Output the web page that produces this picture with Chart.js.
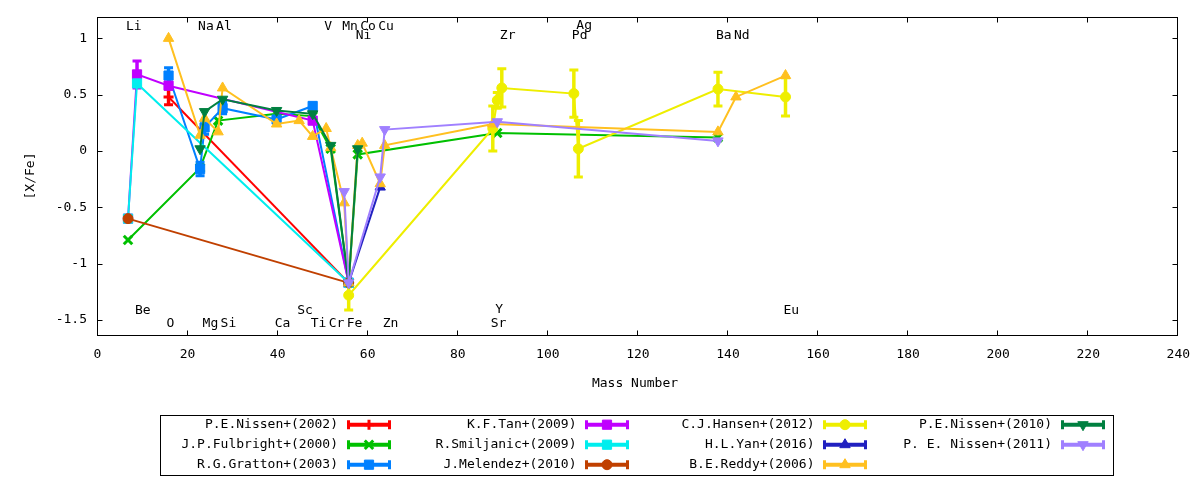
<!DOCTYPE html>
<html><head><meta charset="utf-8">
<script src="https://cdn.jsdelivr.net/npm/chart.js@4.4.1/dist/chart.umd.min.js"></script>
<style>html,body{margin:0;padding:0;background:#fff;}#wrap{width:1200px;height:480px;}</style>
</head><body><div id="wrap"><canvas id="c" width="1200" height="480"></canvas></div>
<script>
// ---- element labels ----
const elementNames  = ['Li','Be','O','Na','Mg','Al','Si','Ca','Sc','Ti','V','Cr','Mn','Fe','Co','Ni','Cu','Zn','Sr','Y','Zr','Pd','Ag','Ba','Nd','Eu'];
const elementMass   = [7,9,16,23,24,27,28,40,45,48,51,52,55,56,59,58,63,64,88,89,90,106,107,138,142,153];
const elementLabelY = [1.10,-1.42,-1.535,1.10,-1.535,1.10,-1.535,-1.535,-1.42,-1.535,1.10,-1.535,1.10,-1.535,1.10,1.02,1.10,-1.535,-1.53,-1.41,1.02,1.02,1.11,1.02,1.02,-1.42];

// ---- axes ticks ----
const xTickValues = [0,20,40,60,80,100,120,140,160,180,200,220,240];
const yTickValues = [-1.5,-1,-0.5,0,0.5,1];
const yTickLabels = ['-1.5','-1','-0.5','0','0.5','1'];

// ---- series (mass number, [X/Fe], error) ----
const nissen2002Mass = [16, 56];
const nissen2002Val  = [0.48, -1.17];
const nissen2002Err  = [0.07, 0];

const fulbright2000Mass = [7, 23, 27, 40, 48, 52, 56, 58, 89, 138];
const fulbright2000Val  = [-0.79, -0.15, 0.27, 0.33, 0.31, 0.02, -1.17, -0.03, 0.16, 0.12];
const fulbright2000Err  = [0, 0, 0, 0, 0, 0, 0, 0, 0, 0];

const gratton2003Mass = [16, 23, 24, 28, 40, 48, 56];
const gratton2003Val  = [0.67, -0.16, 0.21, 0.38, 0.28, 0.40, -1.17];
const gratton2003Err  = [0.07, 0.06, 0.06, 0.05, 0, 0, 0];

const tan2009Mass = [7, 9, 16, 48, 56];
const tan2009Val  = [-0.60, 0.68, 0.58, 0.27, -1.17];
const tan2009Err  = [0, 0.12, 0, 0, 0];

const smiljanic2009Mass = [7, 9, 56];
const smiljanic2009Val  = [-0.60, 0.60, -1.17];
const smiljanic2009Err  = [0, 0, 0];

const melendez2010Mass = [7, 56];
const melendez2010Val  = [-0.60, -1.17];
const melendez2010Err  = [0, 0];

const hansen2012Mass = [56, 88, 89, 90, 106, 107, 138, 153];
const hansen2012Val  = [-1.28, 0.20, 0.45, 0.56, 0.51, 0.02, 0.55, 0.48];
const hansen2012Err  = [0.13, 0.20, 0.07, 0.17, 0.21, 0.25, 0.15, 0.17];

const yan2016Mass = [56, 63];
const yan2016Val  = [-1.17, -0.32];
const yan2016Err  = [0, 0];

const reddy2006Mass = [16, 23, 24, 27, 28, 40, 45, 48, 51, 52, 55, 56, 58, 59, 63, 64, 88, 138, 142, 153];
const reddy2006Val  = [1.00, 0.14, 0.29, 0.17, 0.56, 0.24, 0.27, 0.13, 0.20, 0.03, -0.46, -1.17, 0.05, 0.07, -0.29, 0.05, 0.24, 0.17, 0.48, 0.67];
const reddy2006Err  = [0,0,0,0,0,0,0,0,0,0,0,0,0,0,0,0,0,0,0,0];

const nissen2010Mass = [23, 24, 28, 40, 48, 52, 56, 58];
const nissen2010Val  = [0.02, 0.35, 0.46, 0.36, 0.33, 0.05, -1.17, 0.02];
const nissen2010Err  = [0, 0, 0, 0, 0, 0, 0, 0];

const nissen2011Mass = [55, 56, 63, 64, 89, 138];
const nissen2011Val  = [-0.36, -1.17, -0.23, 0.19, 0.26, 0.09];
const nissen2011Err  = [0, 0, 0, 0, 0, 0];

const FONT = '13px "DejaVu Sans Mono", monospace';

const series = [
  {label:'P.E.Nissen+(2002)',   mass:nissen2002Mass,   val:nissen2002Val,   err:nissen2002Err,   color:'#ff0000', style:'cross',    r:5,   rot:0,   bw:3},
  {label:'J.P.Fulbright+(2000)',mass:fulbright2000Mass,val:fulbright2000Val,err:fulbright2000Err,color:'#00c000', style:'crossRot', r:6,   rot:0,   bw:3},
  {label:'R.G.Gratton+(2003)',  mass:gratton2003Mass,  val:gratton2003Val,  err:gratton2003Err,  color:'#0080ff', style:'rect',     r:6.5, rot:0,   bw:1},
  {label:'K.F.Tan+(2009)',      mass:tan2009Mass,      val:tan2009Val,      err:tan2009Err,      color:'#c000ff', style:'rect',     r:6.5, rot:0,   bw:1},
  {label:'R.Smiljanic+(2009)',  mass:smiljanic2009Mass,val:smiljanic2009Val,err:smiljanic2009Err,color:'#00eeee', style:'rect',     r:6.5, rot:0,   bw:1},
  {label:'J.Melendez+(2010)',   mass:melendez2010Mass, val:melendez2010Val, err:melendez2010Err, color:'#c04000', style:'circle',   r:5,   rot:0,   bw:1},
  {label:'C.J.Hansen+(2012)',   mass:hansen2012Mass,   val:hansen2012Val,   err:hansen2012Err,   color:'#eeee00', style:'circle',   r:5,   rot:0,   bw:1},
  {label:'H.L.Yan+(2016)',      mass:yan2016Mass,      val:yan2016Val,      err:yan2016Err,      color:'#2020c0', style:'triangle', r:6,   rot:0,   bw:1},
  {label:'B.E.Reddy+(2006)',    mass:reddy2006Mass,    val:reddy2006Val,    err:reddy2006Err,    color:'#ffc020', style:'triangle', r:6,   rot:0,   bw:1},
  {label:'P.E.Nissen+(2010)',   mass:nissen2010Mass,   val:nissen2010Val,   err:nissen2010Err,   color:'#008040', style:'triangle', r:6,   rot:180, bw:1},
  {label:'P. E. Nissen+(2011)', mass:nissen2011Mass,   val:nissen2011Val,   err:nissen2011Err,   color:'#a080ff', style:'triangle', r:6,   rot:180, bw:1}
];

const datasets = series.map((s, i) => ({
  label: s.label,
  data: s.mass.map((m, k) => ({x: m, y: s.val[k]})),
  showLine: true,
  tension: 0,
  fill: false,
  borderColor: s.color,
  backgroundColor: s.color,
  borderWidth: 2,
  pointStyle: s.style,
  pointRadius: s.r,
  pointRotation: s.rot,
  pointBorderWidth: s.bw,
  pointBackgroundColor: s.color,
  pointBorderColor: s.color,
  order: series.length - i
}));

function drawMarker(ctx, s, x, y) {
  ctx.save();
  ctx.fillStyle = s.color; ctx.strokeStyle = s.color; ctx.lineWidth = s.bw;
  ctx.beginPath();
  const r = s.r;
  if (s.style === 'cross') {
    ctx.moveTo(x - r, y); ctx.lineTo(x + r, y); ctx.moveTo(x, y - r); ctx.lineTo(x, y + r); ctx.stroke();
  } else if (s.style === 'crossRot') {
    const d = r * Math.SQRT1_2;
    ctx.moveTo(x - d, y - d); ctx.lineTo(x + d, y + d); ctx.moveTo(x - d, y + d); ctx.lineTo(x + d, y - d); ctx.stroke();
  } else if (s.style === 'rect') {
    const d = r * Math.SQRT1_2;
    ctx.rect(x - d, y - d, 2 * d, 2 * d); ctx.fill(); ctx.stroke();
  } else if (s.style === 'circle') {
    ctx.arc(x, y, r, 0, Math.PI * 2); ctx.fill(); ctx.stroke();
  } else if (s.style === 'triangle') {
    let a = s.rot * Math.PI / 180;
    ctx.moveTo(x + Math.sin(a) * r, y - Math.cos(a) * r);
    a += 2 * Math.PI / 3; ctx.lineTo(x + Math.sin(a) * r, y - Math.cos(a) * r);
    a += 2 * Math.PI / 3; ctx.lineTo(x + Math.sin(a) * r, y - Math.cos(a) * r);
    ctx.closePath(); ctx.fill(); ctx.stroke();
  }
  ctx.restore();
}

const errorBarPlugin = {
  id: 'errorBars',
  afterDatasetDraw(chart, args) {
    const s = series[args.index];
    if (!s) return;
    const ctx = chart.ctx, xs = chart.scales.x, ys = chart.scales.y;
    ctx.save();
    ctx.strokeStyle = s.color;
    s.mass.forEach((m, k) => {
      const e = s.err[k];
      if (!e) return;
      const px = xs.getPixelForValue(m);
      const y1 = ys.getPixelForValue(s.val[k] + e);
      const y2 = ys.getPixelForValue(s.val[k] - e);
      ctx.lineWidth = 3.5;
      ctx.beginPath(); ctx.moveTo(px, y1); ctx.lineTo(px, y2); ctx.stroke();
      ctx.lineWidth = 3;
      ctx.beginPath();
      ctx.moveTo(px - 4.5, y1); ctx.lineTo(px + 4.5, y1);
      ctx.moveTo(px - 4.5, y2); ctx.lineTo(px + 4.5, y2);
      ctx.stroke();
    });
    ctx.restore();
  }
};

const framePlugin = {
  id: 'frame',
  afterDraw(chart) {
    const ctx = chart.ctx, a = chart.chartArea, xs = chart.scales.x, ys = chart.scales.y;
    ctx.save();
    ctx.strokeStyle = '#000'; ctx.lineWidth = 1;
    const L = Math.round(a.left) + 0.5, R = Math.round(a.right) + 0.5, T = Math.round(a.top) + 0.5, B = Math.round(a.bottom) + 0.5;
    ctx.strokeRect(L, T, R - L, B - T);
    ctx.beginPath();
    const tl = 5;
    xTickValues.forEach(v => {
      const px = Math.round(xs.getPixelForValue(v)) + 0.5;
      ctx.moveTo(px, B); ctx.lineTo(px, B - tl);
      ctx.moveTo(px, T); ctx.lineTo(px, T + tl);
    });
    yTickValues.forEach(v => {
      const py = Math.round(ys.getPixelForValue(v)) + 0.5;
      ctx.moveTo(L, py); ctx.lineTo(L + tl, py);
      ctx.moveTo(R, py); ctx.lineTo(R - tl, py);
    });
    ctx.stroke();
    ctx.fillStyle = '#000';
    ctx.font = FONT;
    ctx.textBaseline = 'middle';
    ctx.textAlign = 'center';
    xTickValues.forEach(v => ctx.fillText(String(v), xs.getPixelForValue(v) + 1, 355));
    ctx.textAlign = 'right';
    yTickValues.forEach((v, i) => ctx.fillText(yTickLabels[i], 87, ys.getPixelForValue(v)));
    // axis titles
    ctx.textAlign = 'center';
    ctx.fillText('Mass Number', 635, 384);
    ctx.save();
    ctx.translate(31, 176);
    ctx.rotate(-Math.PI / 2);
    ctx.fillText('[X/Fe]', 0, 0);
    ctx.restore();
    // element labels
    ctx.textAlign = 'left';
    elementNames.forEach((n, i) => {
      ctx.fillText(n, xs.getPixelForValue(elementMass[i]) - 2, ys.getPixelForValue(elementLabelY[i]));
    });
    // legend
    ctx.strokeRect(160.5, 415.5, 953, 60);
    const rowsY = [424.7, 444.7, 464.7];
    const colTextRight = [338, 576.5, 814.5, 1052];
    const colSample = [[347, 391], [585, 629], [823, 867], [1061, 1105]];
    series.forEach((s, i) => {
      const col = Math.floor(i / 3), row = i % 3;
      const y = rowsY[row];
      ctx.fillStyle = '#000';
      ctx.textAlign = 'right';
      ctx.fillText(s.label, colTextRight[col], y);
      const [x0, x1] = colSample[col];
      ctx.strokeStyle = s.color;
      ctx.lineWidth = 4;
      ctx.beginPath(); ctx.moveTo(x0, y); ctx.lineTo(x1, y); ctx.stroke();
      ctx.lineWidth = 3;
      ctx.beginPath();
      ctx.moveTo(x0 + 1.5, y - 4.5); ctx.lineTo(x0 + 1.5, y + 4.5);
      ctx.moveTo(x1 - 1.5, y - 4.5); ctx.lineTo(x1 - 1.5, y + 4.5);
      ctx.stroke();
      drawMarker(ctx, s, (x0 + x1) / 2, y);
    });
    ctx.restore();
  }
};

new Chart(document.getElementById('c'), {
  type: 'scatter',
  data: { datasets },
  options: {
    responsive: false,
    animation: false,
    devicePixelRatio: 1,
    events: [],
    layout: { padding: { top: 17.3, right: 22.7, left: 0, bottom: 0 } },
    plugins: { legend: { display: false }, tooltip: { enabled: false } },
    scales: {
      x: { type: 'linear', min: 0, max: 240, grid: { display: false }, border: { display: false },
           ticks: { display: false }, afterFit: s => { s.height = 145; } },
      y: { type: 'linear', min: -1.633, max: 1.187, grid: { display: false }, border: { display: false },
           ticks: { display: false }, afterFit: s => { s.width = 96.5; } }
    }
  },
  plugins: [errorBarPlugin, framePlugin]
});
</script>
</body></html>
